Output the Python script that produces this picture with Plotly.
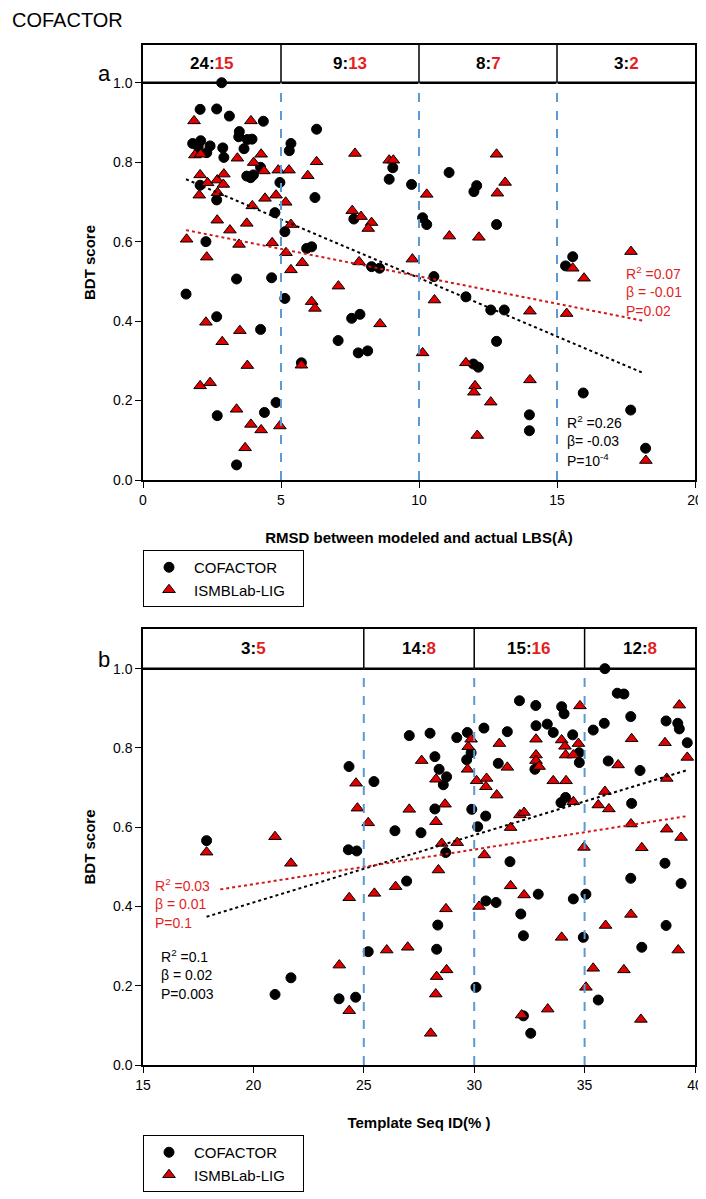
import plotly.graph_objects as go

# ---------------- Panel a data (RMSD vs BDT score) ----------------
a_cof_x = [2.85, 2.07, 2.67, 3.13, 4.36, 3.49, 3.47, 3.78, 3.95, 1.80, 2.09, 2.00, 2.43, 2.31, 2.89, 3.66,
           2.93, 4.26, 3.76, 4.00, 3.90, 2.07, 2.67, 4.96, 4.78, 5.14, 5.36, 5.30, 6.29, 6.23, 8.92, 9.05,
           9.73, 10.13, 10.28, 7.64, 2.28, 5.93, 6.11, 8.28, 8.57, 10.54, 3.39, 4.66, 1.56, 5.14, 2.67,
           7.56, 7.86, 4.26, 7.07, 7.80, 8.14, 5.74, 4.82, 2.69, 4.40, 3.39, 11.09, 12.09, 11.99, 12.81,
           11.70, 12.60, 13.09, 12.81, 11.97, 12.15, 14.00, 14.00, 15.57, 15.31, 15.95, 17.67, 18.21]
a_cof_y = [1.000, 0.933, 0.934, 0.916, 0.903, 0.877, 0.864, 0.857, 0.858, 0.847, 0.854, 0.839, 0.841, 0.824,
           0.836, 0.834, 0.812, 0.787, 0.765, 0.768, 0.761, 0.742, 0.705, 0.749, 0.673, 0.625, 0.847, 0.829,
           0.883, 0.711, 0.757, 0.786, 0.744, 0.660, 0.643, 0.657, 0.600, 0.583, 0.587, 0.537, 0.533, 0.512,
           0.506, 0.509, 0.468, 0.457, 0.411, 0.407, 0.417, 0.379, 0.351, 0.320, 0.325, 0.295, 0.195, 0.162,
           0.170, 0.038, 0.774, 0.741, 0.726, 0.643, 0.461, 0.428, 0.428, 0.349, 0.292, 0.284, 0.164, 0.124,
           0.562, 0.539, 0.219, 0.176, 0.080]

a_ism_x = [1.85, 3.91, 1.88, 2.09, 3.42, 4.28, 4.01, 4.38, 4.90, 5.29, 2.07, 2.34, 2.69, 2.93, 2.91, 2.70,
           2.04, 4.42, 4.82, 5.17, 3.96, 2.69, 3.76, 3.15, 5.36, 6.29, 5.97, 7.68, 8.92, 9.07, 10.28, 7.58,
           7.90, 8.28, 8.16, 1.58, 2.31, 3.48, 4.68, 5.18, 5.36, 5.77, 7.83, 9.76, 7.08, 6.11, 6.23, 10.56,
           8.59, 2.28, 3.51, 2.87, 3.78, 5.74, 10.13, 2.07, 2.43, 3.39, 3.91, 4.28, 4.96, 3.70, 12.81, 13.12,
           12.84, 11.10, 12.17, 14.02, 15.35, 15.57, 15.98, 17.68, 11.70, 12.03, 11.99, 12.60, 14.02, 12.11,
           18.22]
a_ism_y = [0.904, 0.904, 0.818, 0.820, 0.810, 0.820, 0.799, 0.778, 0.780, 0.780, 0.768, 0.748, 0.755, 0.770,
           0.744, 0.723, 0.717, 0.709, 0.717, 0.699, 0.690, 0.654, 0.646, 0.629, 0.643, 0.801, 0.766, 0.822,
           0.805, 0.805, 0.719, 0.678, 0.663, 0.648, 0.633, 0.606, 0.561, 0.593, 0.597, 0.572, 0.529, 0.547,
           0.549, 0.556, 0.488, 0.449, 0.432, 0.453, 0.393, 0.397, 0.376, 0.348, 0.288, 0.289, 0.320, 0.237,
           0.245, 0.178, 0.140, 0.126, 0.136, 0.081, 0.820, 0.749, 0.722, 0.614, 0.611, 0.425, 0.419, 0.533,
           0.508, 0.575, 0.295, 0.237, 0.221, 0.196, 0.252, 0.112, 0.049]

# ---------------- Panel b data (Template Seq ID vs BDT score) ----------------
b_cof_x = [17.88, 24.33, 24.30, 24.68, 21.70, 20.98, 23.88, 24.63,
           25.46, 26.41, 27.59, 26.94, 28.22, 28.41, 28.22, 28.35, 28.30, 25.20, 28.75, 28.60, 29.66, 29.86,
           29.89, 28.71, 27.06, 28.00, 29.21, 29.69,
           30.52, 30.16, 31.09, 32.75, 34.75, 34.76, 33.93, 34.14, 31.62, 32.90, 34.49, 35.06, 30.53, 30.99,
           32.11, 32.23, 34.94, 30.08, 32.23, 32.56, 32.05, 32.79, 33.96, 34.07, 32.80, 33.31, 33.58, 34.46,
           30.44, 31.50,
           36.07, 37.51, 39.65, 37.13, 38.64, 37.09, 39.37, 38.69, 37.59, 35.62, 35.92, 36.48, 36.78, 37.09,
           35.89, 35.39, 38.69, 39.22, 39.29]
b_cof_y = [0.566, 0.753, 0.543, 0.540, 0.220, 0.178, 0.167, 0.171,
           0.715, 0.591, 0.586, 0.464, 0.778, 0.746, 0.646, 0.353, 0.292, 0.286, 0.727, 0.707, 0.770, 0.788,
           0.645, 0.536, 0.831, 0.837, 0.826, 0.839,
           0.628, 0.601, 0.761, 0.746, 0.788, 0.763, 0.662, 0.675, 0.513, 0.431, 0.419, 0.431, 0.414, 0.410,
           0.381, 0.326, 0.322, 0.196, 0.124, 0.080, 0.919, 0.907, 0.904, 0.886, 0.856, 0.860, 0.839, 0.833,
           0.850, 0.841,
           0.767, 0.743, 0.813, 0.660, 0.509, 0.471, 0.458, 0.352, 0.297, 0.164, 1.000, 0.938, 0.936, 0.879,
           0.862, 0.845, 0.868, 0.862, 0.848]

b_ism_x = [17.88, 20.98, 21.70, 24.65, 24.71, 24.34, 23.89, 24.34,
           25.20, 27.62, 28.27, 27.06, 28.27, 28.38, 26.44, 25.48, 26.04, 26.99, 28.30, 28.26, 28.03, 29.73,
           29.86, 29.70, 28.68, 28.53, 29.23, 28.72, 28.75,
           31.14, 32.80, 33.96, 34.11, 34.72, 34.79, 32.80, 32.80, 32.94, 34.14, 34.49, 30.11, 30.56, 30.53,
           31.50, 31.02, 33.58, 34.16, 32.07, 32.26, 34.49, 31.65, 34.97, 30.46, 31.65, 32.26, 30.22, 33.96,
           33.33, 32.15,
           37.13, 38.64, 39.29, 36.52, 39.65, 38.72, 35.92, 35.62, 36.10, 37.10, 38.72, 39.37, 37.59, 37.10,
           35.95, 39.24, 35.39, 36.78, 35.06, 37.55]
b_ism_y = [0.537, 0.576, 0.509, 0.711, 0.648, 0.422, 0.252, 0.137,
           0.611, 0.768, 0.721, 0.645, 0.614, 0.492, 0.450, 0.433, 0.290, 0.297, 0.223, 0.179, 0.080, 0.803,
           0.822, 0.746, 0.658, 0.559, 0.561, 0.394, 0.240,
           0.811, 0.822, 0.820, 0.804, 0.811, 0.906, 0.782, 0.768, 0.753, 0.782, 0.782, 0.717, 0.723, 0.702,
           0.751, 0.681, 0.717, 0.717, 0.631, 0.637, 0.664, 0.599, 0.549, 0.530, 0.452, 0.429, 0.400, 0.322,
           0.141, 0.126,
           0.823, 0.813, 0.908, 0.757, 0.776, 0.723, 0.690, 0.656, 0.646, 0.608, 0.595, 0.574, 0.548, 0.380,
           0.352, 0.290, 0.244, 0.240, 0.196, 0.115]

# trend lines: [slope, intercept, x_start, x_end]
a_cof_fit = [-0.02944, 0.8029, 1.56, 18.07]
a_ism_fit = [-0.01378, 0.6505, 1.56, 18.10]
b_cof_fit = [0.01700, 0.0700, 17.88, 39.65]
b_ism_fit = [0.00874, 0.2814, 18.50, 39.65]

# header bins
a_bins = [0, 5, 10, 15, 20]
a_counts_cof = [24, 9, 8, 3]
a_counts_ism = [15, 13, 7, 2]
b_bins = [15, 25, 30, 35, 40]
b_counts_cof = [3, 14, 15, 12]
b_counts_ism = [5, 8, 16, 8]

a_xticks = [0, 5, 10, 15, 20]
b_xticks = [15, 20, 25, 30, 35, 40]
y_ticks = [0.0, 0.2, 0.4, 0.6, 0.8, 1.0]

OFF = 8  # page body margin
W, H = 706 - OFF, 1199 - OFF
FONT = "Arial, 'Liberation Sans', sans-serif"
RED = "#e41e1e"
MRED = "#e00000"
BLUE = "#5b9bd5"
NB = "\u00a0"

def px(v):
    return (v - OFF) / W

def py(v):
    return 1 - (v - OFF) / H

fig = go.Figure()

def add_scatter(xs, ys, name, symbol, color, xa, ya, legend, size):
    fig.add_trace(go.Scatter(
        x=xs, y=ys, mode="markers", name=name,
        marker=dict(symbol=symbol, size=size, color=color, line=dict(color="black", width=1)),
        xaxis=xa, yaxis=ya, legend=legend, cliponaxis=False))

add_scatter(a_cof_x, a_cof_y, "COFACTOR", "circle", "black", "x", "y", "legend", 10)
add_scatter(a_ism_x, a_ism_y, "ISMBLab-LIG" + NB * 3, "triangle-up", MRED, "x", "y", "legend", 11)
add_scatter(b_cof_x, b_cof_y, "COFACTOR", "circle", "black", "x2", "y2", "legend2", 10)
add_scatter(b_ism_x, b_ism_y, "ISMBLab-LIG" + NB * 3, "triangle-up", MRED, "x2", "y2", "legend2", 11)

def add_fit(fit, color, xa, ya):
    s, b, x0, x1 = fit
    fig.add_trace(go.Scatter(x=[x0, x1], y=[s * x0 + b, s * x1 + b], mode="lines",
                             line=dict(color=color, width=2, dash="dot"),
                             xaxis=xa, yaxis=ya, showlegend=False, hoverinfo="skip"))

add_fit(a_cof_fit, "black", "x", "y")
add_fit(a_ism_fit, "#d01818", "x", "y")
add_fit(b_cof_fit, "black", "x2", "y2")
add_fit(b_ism_fit, "#d01818", "x2", "y2")

shapes = []
annotations = []

def header(bins, cof, ism, xref, yref, top):
    shapes.append(dict(type="line", xref=xref, yref=yref, x0=bins[0], x1=bins[-1], y0=1.0, y1=1.0,
                       line=dict(color="black", width=2.5)))
    for i in range(1, len(bins) - 1):
        shapes.append(dict(type="line", xref=xref, yref=yref, x0=bins[i], x1=bins[i], y0=1.0, y1=top,
                           line=dict(color="black", width=1.5)))
        shapes.append(dict(type="line", xref=xref, yref=yref, x0=bins[i], x1=bins[i], y0=0, y1=1.0,
                           line=dict(color=BLUE, width=2, dash="dash")))
    for i in range(len(cof)):
        annotations.append(dict(xref=xref, yref=yref, x=(bins[i] + bins[i + 1]) / 2, y=(1.0 + top) / 2,
                                text="<b>%d:<span style='color:%s'>%d</span></b>" % (cof[i], RED, ism[i]),
                                showarrow=False, font=dict(size=17, color="black", family=FONT),
                                xanchor="center", yanchor="middle"))

A_TOP = 1.095
B_TOP = 1.100
header(a_bins, a_counts_cof, a_counts_ism, "x", "y", A_TOP)
header(b_bins, b_counts_cof, b_counts_ism, "x2", "y2", B_TOP)

def note(x, y, text, color):
    annotations.append(dict(xref="paper", yref="paper", x=px(x), y=py(y), text=text, showarrow=False,
                            xanchor="left", yanchor="middle", font=dict(size=14, color=color, family=FONT)))

note(624, 273, "R<sup>2</sup> =0.07", RED)
note(624, 292, "β = -0.01", RED)
note(624, 311, "P=0.02", RED)
note(565, 422, "R<sup>2</sup> =0.26", "black")
note(565, 441, "β= -0.03", "black")
note(565, 460, "P=10<sup>-4</sup>", "black")

note(153, 885, "R<sup>2</sup> =0.03", RED)
note(153, 904, "β = 0.01", RED)
note(153, 923, "P=0.1", RED)
note(159, 956, "R<sup>2</sup> =0.1", "black")
note(159, 975, "β = 0.02", "black")
note(159, 994, "P=0.003", "black")

annotations.append(dict(xref="paper", yref="paper", x=3 / W, y=1, text="COFACTOR", showarrow=False,
                        xanchor="left", yanchor="top", borderpad=0,
                        font=dict(size=20, color="black", family=FONT)))
annotations.append(dict(xref="paper", yref="paper", x=px(104), y=py(74), text="a", showarrow=False,
                        xanchor="center", yanchor="middle", font=dict(size=22, color="black", family=FONT)))
annotations.append(dict(xref="paper", yref="paper", x=px(104), y=py(659), text="b", showarrow=False,
                        xanchor="center", yanchor="middle", font=dict(size=22, color="black", family=FONT)))

XD = [px(143), px(695)]
axis_common = dict(showline=True, linecolor="black", linewidth=1.5, mirror=True, ticks="outside",
                   ticklen=6, tickwidth=1.2, tickcolor="black", showgrid=False, zeroline=False,
                   tickfont=dict(size=14, family=FONT, color="black"), automargin=False)

leg_common = dict(xanchor="left", yanchor="top", bordercolor="black", borderwidth=1,
                  bgcolor="white", font=dict(size=15, family=FONT, color="black"), itemwidth=40,
                  tracegroupgap=0)

fig.update_layout(
    width=W, height=H, margin=dict(l=0, r=0, t=0, b=0, pad=0),
    paper_bgcolor="white", plot_bgcolor="white",
    font=dict(family=FONT, color="black"),
    xaxis=dict(domain=XD, range=[0, 20], tickvals=a_xticks, anchor="y",
               title=dict(text="<b>RMSD between modeled and actual LBS(Å)</b>", font=dict(size=15), standoff=26),
               **axis_common),
    yaxis=dict(domain=[py(480), py(45)], range=[0, A_TOP], tickvals=y_ticks, tickformat=".1f", anchor="x",
               title=dict(text="<b>BDT score</b>", font=dict(size=15), standoff=14), **axis_common),
    xaxis2=dict(domain=XD, range=[15, 40], tickvals=b_xticks, anchor="y2",
                title=dict(text="<b>Template Seq ID(% )</b>", font=dict(size=15), standoff=26),
                **axis_common),
    yaxis2=dict(domain=[py(1065), py(629)], range=[0, B_TOP], tickvals=y_ticks, tickformat=".1f", anchor="x2",
                title=dict(text="<b>BDT score</b>", font=dict(size=15), standoff=14), **axis_common),
    legend=dict(x=px(143), y=py(550), **leg_common),
    legend2=dict(x=px(143), y=py(1135), **leg_common),
    shapes=shapes, annotations=annotations, showlegend=True,
)

fig.write_html("out.html")
